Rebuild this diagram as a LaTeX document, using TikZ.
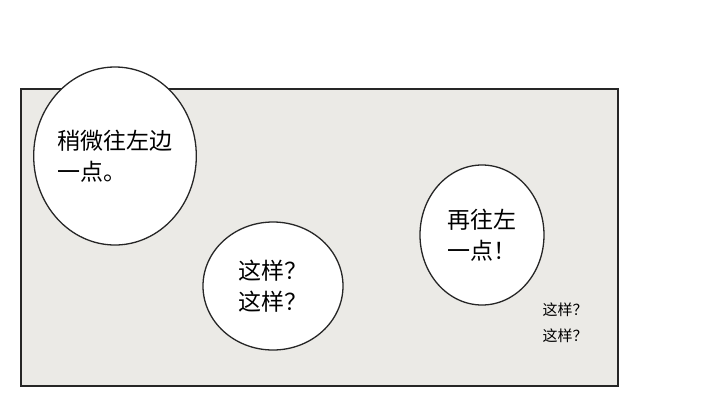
\documentclass[tikz,border=0pt]{standalone}
\usepackage{fontspec}
\newfontfamily\cjk{Noto Sans CJK SC}
\usetikzlibrary{shapes.geometric}
\definecolor{panelgray}{HTML}{EBEAE6}
\begin{document}
\begin{tikzpicture}[x=1pt,y=-1pt,
  bubble/.style={ellipse, draw=black!85, line width=1.3pt, fill=white, inner sep=0pt, font=\cjk\fontsize{23}{31}\selectfont},
  aside/.style={align=center, font=\cjk\fontsize{15}{26}\selectfont}]

        \useasboundingbox (0,0) rectangle (720,405);

        \draw[black!85, line width=1.3pt, fill=panelgray] (21,89) rectangle (618,386);

        \node[bubble, align=left, minimum width=152pt, minimum height=178pt] (left) at (115,156) {稍微往左边\\一点。};

        \node[bubble, align=center, minimum width=140pt, minimum height=128pt] (middle) at (273,286) {这样？\\这样？};

        \node[bubble, align=left, minimum width=124pt, minimum height=140pt] (right) at (482,235) {再往左\\一点！};

        \node[aside] (small) at (565,323) {这样？\\这样？};

    \end{tikzpicture}
\end{document}
